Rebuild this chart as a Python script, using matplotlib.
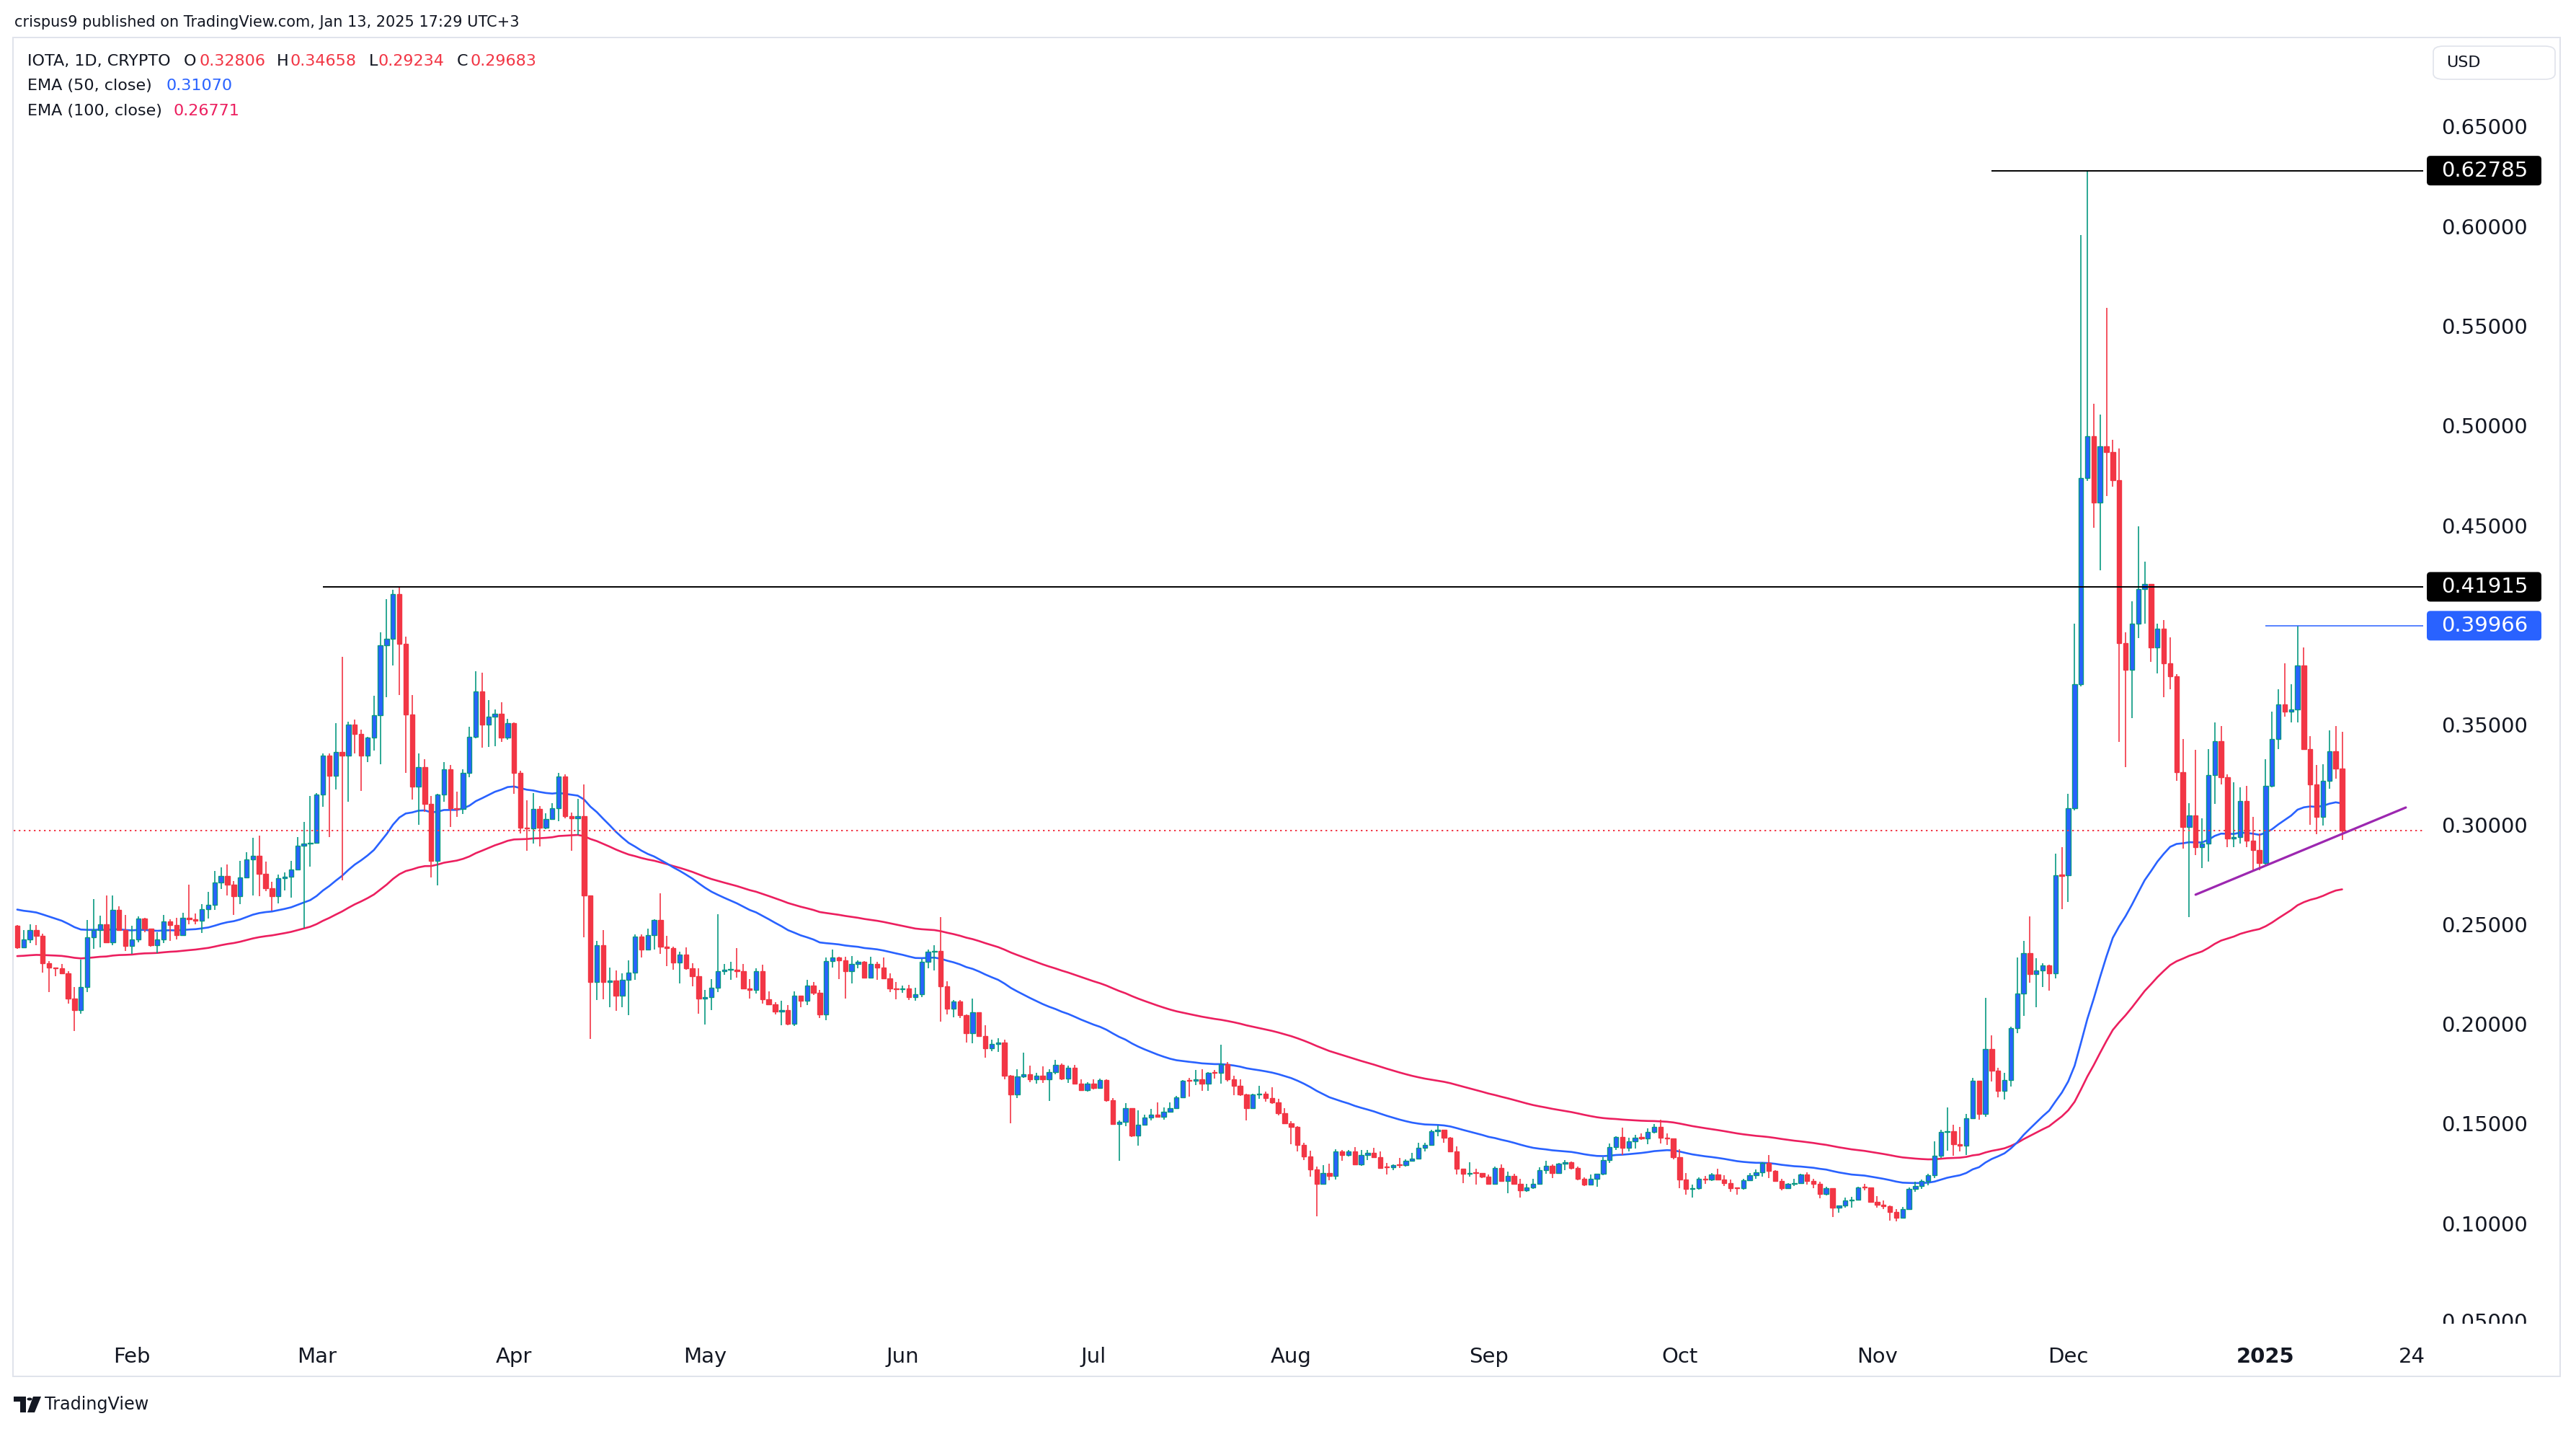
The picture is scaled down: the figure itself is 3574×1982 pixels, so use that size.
import numpy as np
import pandas as pd
import matplotlib
matplotlib.use("Agg")
import matplotlib.pyplot as plt
import matplotlib.dates as mdates
from matplotlib.patches import Rectangle, FancyBboxPatch, Circle, Polygon

plt.rcParams['font.family'] = ['DejaVu Sans']

# ---------------- data ----------------
start_date = '2024-01-14'

opens = [
    # Jan 14-31 2024
    .2491,.2382,.2422,.2470,.2440,.2305,.2281,.2279,.2253,.2127,.2070,.2183,.2434,.2470,.2498,.2410,.2573,.2470,
    # Feb
    .2392,.2422,.2528,.2476,.2396,.2422,.2515,.2497,.2444,.2531,.2525,.2516,.2576,.2598,.2709,.2742,.2699,.2641,.2736,.2826,.2842,.2754,.2681,.2639,.2729,.2739,.2774,.2895,.2904,
    # Mar
    .2907,.3149,.3347,.3245,.3364,.3344,.3501,.3455,.3344,.3435,.3547,.3897,.3930,.4154,.3907,.3550,.3189,.3288,.3104,.2819,.3149,.3276,.3082,.3078,.3260,.3438,.3667,.3499,.3542,.3554,.3435,
    # Apr
    .3507,.3260,.2984,.2980,.3078,.2982,.3028,.3082,.3242,.3040,.3032,.3040,.2644,.2211,.2396,.2211,.2216,.2142,.2220,.2256,.2437,.2374,.2446,.2522,.2388,.2380,.2308,.2347,.2280,.2238,
    # May
    .2127,.2133,.2181,.2263,.2270,.2273,.2263,.2179,.2169,.2263,.2124,.2099,.2063,.2070,.2000,.2142,.2115,.2191,.2155,.2046,.2314,.2332,.2317,.2263,.2299,.2311,.2233,.2302,.2284,.2227,.2179,
    # Jun
    .2175,.2178,.2133,.2147,.2311,.2362,.2367,.2187,.2075,.2111,.2043,.1952,.2057,.1940,.1876,.1898,.1908,.1741,.1645,.1735,.1747,.1723,.1741,.1723,.1759,.1793,.1727,.1780,.1699,.1669,
    # Jul
    .1699,.1679,.1717,.1617,.1498,.1510,.1579,.1440,.1494,.1530,.1546,.1533,.1561,.1579,.1633,.1717,.1714,.1721,.1699,.1756,.1753,.1798,.1723,.1691,.1645,.1579,.1645,.1651,.1627,.1605,.1552,
    # Aug
    .1503,.1485,.1392,.1334,.1271,.1199,.1253,.1239,.1359,.1344,.1362,.1295,.1344,.1353,.1332,.1283,.1280,.1295,.1292,.1313,.1326,.1377,.1394,.1460,.1468,.1428,.1359,.1274,.1247,.1255,.1251,
    # Sep
    .1235,.1199,.1277,.1213,.1239,.1199,.1166,.1178,.1199,.1265,.1289,.1253,.1299,.1305,.1277,.1223,.1195,.1223,.1247,.1316,.1383,.1434,.1380,.1412,.1431,.1424,.1458,.1485,.1430,.1425,
    # Oct
    .1332,.1221,.1171,.1177,.1223,.1219,.1244,.1219,.1203,.1179,.1176,.1217,.1241,.1256,.1301,.1263,.1211,.1175,.1199,.1203,.1243,.1211,.1199,.1147,.1175,.1078,.1088,.1115,.1119,.1182,.1179,
    # Nov
    .1106,.1094,.1085,.1058,.1027,.1072,.1171,.1187,.1211,.1241,.1340,.1458,.1462,.1398,.1391,.1528,.1714,.1548,.1874,.1765,.1663,.1720,.1979,.2151,.2353,.2251,.2268,.2292,.2253,.2747,
    # Dec
    .2744,.3082,.3704,.4738,.4947,.4613,.4897,.4867,.4725,.3908,.3776,.4008,.4182,.4205,.3888,.3983,.3809,.3742,.3261,.2987,.3044,.2887,.2905,.3248,.3418,.3236,.2930,.2937,.3116,.2917,.2870,
    # Jan 1-13 2025
    .2805,.3194,.3428,.3602,.3565,.3577,.3796,.3378,.3199,.3037,.3219,.3368,.32806,
]

highs = [
    .2494,.2470,.2498,.2494,.2452,.2316,.2283,.2302,.2265,.2183,.2322,.2521,.2627,.2543,.2644,.2644,.2588,.2545,
    .2492,.2540,.2533,.2476,.2461,.2545,.2525,.2533,.2557,.2697,.2552,.2600,.2663,.2766,.2786,.2798,.2717,.2817,.2860,.2934,.2943,.2814,.2711,.2748,.2760,.2817,.2937,.3013,.3143,
    .3158,.3355,.3355,.3507,.3839,.3516,.3527,.3474,.3438,.3645,.3965,.4128,.4176,.41915,.3942,.3648,.3356,.3326,.3143,.3154,.3311,.3298,.3165,.3276,.3489,.3770,.3760,.3623,.3575,.3613,.3530,
    .3512,.3268,.3120,.3157,.3093,.3055,.3108,.3260,.3250,.3058,.3128,.3200,.2644,.2416,.2469,.2281,.2269,.2253,.2320,.2449,.2449,.2476,.2525,.2654,.2440,.2386,.2362,.2384,.2304,.2278,
    .2169,.2223,.2549,.2302,.2311,.2380,.2302,.2223,.2280,.2296,.2163,.2109,.2115,.2094,.2163,.2142,.2220,.2211,.2169,.2332,.2371,.2338,.2338,.2341,.2320,.2316,.2335,.2311,.2332,.2253,.2209,
    .2191,.2196,.2181,.2326,.2372,.2396,.2534,.2214,.2119,.2121,.2049,.2127,.2057,.1992,.1922,.1928,.1920,.1745,.1771,.1856,.1789,.1753,.1786,.1771,.1820,.1801,.1789,.1795,.1721,.1709,
    .1723,.1726,.1721,.1627,.1515,.1603,.1579,.1567,.1545,.1573,.1605,.1581,.1605,.1639,.1717,.1729,.1769,.1771,.1759,.1769,.1896,.1808,.1741,.1721,.1651,.1649,.1689,.1661,.1681,.1623,.1576,
    .1512,.1488,.1404,.1364,.1283,.1292,.1298,.1370,.1368,.1368,.1383,.1368,.1368,.1377,.1359,.1301,.1295,.1328,.1320,.1353,.1404,.1404,.1470,.1491,.1468,.1434,.1386,.1274,.1305,.1275,.1253,
    .1244,.1283,.1295,.1259,.1247,.1223,.1199,.1223,.1280,.1314,.1295,.1303,.1317,.1311,.1283,.1231,.1244,.1247,.1332,.1400,.1436,.1480,.1428,.1444,.1452,.1476,.1497,.1518,.1452,.1425,
    .1371,.1251,.1195,.1231,.1239,.1251,.1274,.1241,.1219,.1181,.1223,.1251,.1271,.1308,.1344,.1265,.1223,.1203,.1223,.1247,.1256,.1223,.1207,.1183,.1177,.1090,.1130,.1133,.1183,.1199,.1180,
    .1135,.1115,.1090,.1070,.1082,.1181,.1207,.1219,.1247,.1410,.1468,.1581,.1494,.1482,.1548,.1729,.1714,.2130,.1943,.1781,.1753,.1985,.2332,.2416,.2540,.2328,.2304,.2296,.2854,.2886,
    .3154,.4008,.5955,.62785,.5109,.5054,.5589,.4929,.4885,.3963,.4120,.4494,.4319,.4207,.4008,.4025,.3938,.3752,.3428,.3107,.3373,.3032,.3378,.3510,.3492,.3253,.3211,.3186,.3194,.3037,.2955,
    .3328,.3565,.3677,.3809,.3702,.39966,.3889,.3443,.3298,.3303,.3473,.3492,.34658,
]

lows = [
    .2375,.2380,.2404,.2396,.2256,.2159,.2238,.2250,.2103,.1964,.2051,.2159,.2376,.2382,.2409,.2394,.2465,.2364,
    .2350,.2408,.2458,.2388,.2356,.2404,.2416,.2425,.2440,.2500,.2500,.2455,.2528,.2573,.2675,.2645,.2545,.2600,.2733,.2645,.2641,.2666,.2567,.2603,.2669,.2633,.2774,.2482,.2790,
    .2906,.3090,.2936,.3177,.2720,.3113,.3356,.3169,.3314,.3372,.3303,.3638,.3796,.3648,.3260,.3124,.2997,.3063,.2736,.2693,.3113,.2987,.3037,.3052,.3235,.3431,.3385,.3390,.3394,.3413,.3425,
    .3154,.2956,.2869,.2903,.2891,.2976,.3025,.3017,.3032,.2869,.2949,.2434,.1925,.2119,.2124,.2085,.2067,.2085,.2043,.2221,.2332,.2368,.2374,.2352,.2290,.2272,.2203,.2272,.2187,.2051,
    .1998,.2070,.2159,.2247,.2221,.2233,.2179,.2127,.2151,.2103,.2099,.2049,.1994,.1994,.1988,.2082,.2094,.2145,.2030,.2018,.2284,.2223,.2127,.2202,.2280,.2227,.2229,.2221,.2223,.2159,.2123,
    .2155,.2121,.2115,.2133,.2278,.2269,.2010,.2049,.2034,.2031,.1908,.1902,.1934,.1829,.1862,.1858,.1721,.1500,.1627,.1729,.1709,.1702,.1705,.1612,.1747,.1717,.1703,.1699,.1667,.1659,
    .1673,.1675,.1611,.1494,.1314,.1486,.1434,.1388,.1491,.1515,.1533,.1521,.1557,.1579,.1633,.1636,.1693,.1663,.1665,.1726,.1699,.1711,.1642,.1639,.1516,.1572,.1624,.1611,.1600,.1542,.1503,
    .1398,.1362,.1316,.1235,.1036,.1199,.1215,.1219,.1313,.1334,.1295,.1287,.1316,.1328,.1275,.1245,.1268,.1277,.1283,.1310,.1322,.1359,.1392,.1438,.1404,.1359,.1244,.1203,.1233,.1193,.1227,
    .1193,.1195,.1213,.1151,.1193,.1130,.1159,.1171,.1199,.1247,.1227,.1251,.1268,.1271,.1217,.1187,.1191,.1183,.1241,.1301,.1368,.1344,.1359,.1376,.1420,.1395,.1452,.1401,.1392,.1320,
    .1175,.1145,.1130,.1169,.1199,.1211,.1219,.1187,.1159,.1145,.1169,.1215,.1223,.1235,.1227,.1207,.1166,.1171,.1187,.1199,.1195,.1175,.1127,.1139,.1030,.1054,.1078,.1078,.1118,.1166,.1106,
    .1078,.1070,.1015,.1010,.1027,.1072,.1159,.1171,.1191,.1227,.1328,.1364,.1337,.1362,.1344,.1524,.1518,.1533,.1711,.1633,.1621,.1687,.1955,.2039,.2208,.2082,.2185,.2167,.2229,.2576,
    .2613,.3070,.3692,.4723,.4486,.4274,.4648,.4693,.3415,.3286,.3535,.3933,.4008,.3814,.3759,.3639,.3677,.3219,.2880,.2534,.2845,.2783,.2813,.3104,.3199,.2887,.2887,.2905,.2887,.2770,.2770,
    .2800,.3186,.3378,.3542,.3510,.3510,.3378,.3000,.2950,.2995,.3179,.3229,.29234,
]

closes = [
    .2382,.2422,.2470,.2440,.2305,.2281,.2279,.2253,.2127,.2070,.2183,.2434,.2470,.2498,.2410,.2573,.2470,.2392,
    .2422,.2528,.2476,.2396,.2422,.2515,.2497,.2444,.2531,.2525,.2516,.2576,.2598,.2709,.2742,.2699,.2641,.2736,.2826,.2842,.2754,.2681,.2639,.2729,.2739,.2774,.2895,.2904,.2907,
    .3149,.3347,.3245,.3364,.3344,.3501,.3455,.3344,.3435,.3547,.3897,.3930,.4154,.3907,.3550,.3189,.3288,.3104,.2819,.3149,.3276,.3082,.3078,.3260,.3438,.3667,.3499,.3542,.3554,.3435,.3507,
    .3260,.2982,.2980,.3078,.2982,.3028,.3082,.3242,.3040,.3032,.3040,.2644,.2211,.2396,.2211,.2216,.2142,.2220,.2256,.2437,.2374,.2446,.2522,.2388,.2380,.2308,.2347,.2280,.2238,.2127,
    .2133,.2181,.2263,.2270,.2273,.2263,.2179,.2169,.2263,.2124,.2099,.2063,.2070,.2000,.2142,.2115,.2191,.2155,.2046,.2314,.2332,.2317,.2263,.2299,.2311,.2233,.2302,.2284,.2227,.2179,.2175,
    .2178,.2133,.2147,.2311,.2362,.2367,.2187,.2075,.2111,.2043,.1952,.2057,.1940,.1876,.1898,.1908,.1741,.1645,.1735,.1747,.1723,.1741,.1723,.1759,.1793,.1727,.1780,.1699,.1669,.1699,
    .1679,.1717,.1617,.1498,.1510,.1579,.1440,.1494,.1530,.1546,.1533,.1561,.1579,.1633,.1714,.1714,.1721,.1699,.1753,.1753,.1798,.1723,.1691,.1645,.1579,.1645,.1651,.1627,.1605,.1552,.1503,
    .1485,.1392,.1334,.1271,.1199,.1253,.1239,.1359,.1344,.1362,.1295,.1344,.1353,.1332,.1277,.1280,.1293,.1292,.1313,.1326,.1377,.1394,.1460,.1468,.1428,.1359,.1274,.1247,.1253,.1251,.1235,
    .1199,.1277,.1213,.1239,.1199,.1166,.1178,.1199,.1265,.1289,.1253,.1299,.1305,.1277,.1223,.1195,.1223,.1247,.1316,.1383,.1434,.1380,.1412,.1428,.1424,.1458,.1485,.1428,.1425,.1332,
    .1221,.1171,.1177,.1223,.1219,.1244,.1219,.1203,.1175,.1176,.1217,.1241,.1256,.1301,.1263,.1211,.1175,.1199,.1203,.1243,.1211,.1199,.1147,.1175,.1078,.1088,.1115,.1119,.1178,.1179,.1106,
    .1094,.1085,.1058,.1027,.1072,.1171,.1187,.1211,.1241,.1340,.1458,.1462,.1398,.1391,.1528,.1714,.1548,.1874,.1765,.1663,.1720,.1979,.2151,.2353,.2251,.2268,.2292,.2253,.2744,.2741,
    .3082,.3704,.4738,.4947,.4613,.4897,.4867,.4725,.3908,.3776,.4008,.4182,.4205,.3888,.3983,.3809,.3742,.3261,.2987,.3044,.2887,.2905,.3248,.3418,.3236,.2930,.2937,.3116,.2917,.2870,.2805,
    .3194,.3428,.3602,.3565,.3577,.3796,.3378,.3199,.3037,.3219,.3368,.3281,.29683,
]

# EMA values on the day before the first visible candle
ema50_seed = 0.2581
ema100_seed = 0.2339

level_prices = [0.62785, 0.41915, 0.39966]
level_labels = ['0.62785', '0.41915', '0.39966']
level_starts = ['2024-11-19', '2024-03-02', '2025-01-01']
level_colors = ['#000000', '#000000', '#2962ff']

trend_dates = ['2024-12-21', '2025-01-23']
trend_prices = [0.2648, 0.3085]

last_price = 0.29683

price_ticks = [0.10, 0.15, 0.20, 0.25, 0.30, 0.35, 0.45, 0.50, 0.55, 0.60, 0.65]
bottom_tick = 0.05
time_ticks = ['2024-02-01', '2024-03-01', '2024-04-01', '2024-05-01', '2024-06-01', '2024-07-01',
              '2024-08-01', '2024-09-01', '2024-10-01', '2024-11-01', '2024-12-01', '2025-01-01', '2025-01-24']
time_labels = ['Feb', 'Mar', 'Apr', 'May', 'Jun', 'Jul', 'Aug', 'Sep', 'Oct', 'Nov', 'Dec', '2025', '24']

legend_symbol = 'IOTA, 1D, CRYPTO'
ema_names = ['EMA (50, close)', 'EMA (100, close)']
ema_values = ['0.31070', '0.26771']
header = 'crispus9 published on TradingView.com, Jan 13, 2025 17:29 UTC+3'

assert len(opens) == len(highs) == len(lows) == len(closes) == 366

# ---------------- styling ----------------
W, H, DPI = 3574, 1982, 200
UP_FILL, UP_EDGE, DOWN = '#2962ff', '#089981', '#f23645'
EMA50_C, EMA100_C = '#2962ff', '#ec1f5f'
TXT = '#131722'

def fx(px):
    return px / W

def fy(py):
    return 1 - py / H

fig = plt.figure(figsize=(W / DPI, H / DPI), dpi=DPI)
fig.patch.set_facecolor('white')

PL, PR, PT, PB = 19, 3362, 55, 1836
ax = fig.add_axes([fx(PL), fy(PB), fx(PR) - fx(PL), fy(PT) - fy(PB)])

dates = pd.date_range(start_date, periods=len(closes), freq='D')
x = mdates.date2num(dates.to_pydatetime())
o = np.array(opens); h = np.array(highs); l = np.array(lows); c = np.array(closes)

# EMAs computed from closes
ema50 = pd.Series(np.r_[ema50_seed, c]).ewm(span=50, adjust=False).mean().to_numpy()[1:]
ema100 = pd.Series(np.r_[ema100_seed, c]).ewm(span=100, adjust=False).mean().to_numpy()[1:]
ax.plot(x, ema100, color=EMA100_C, lw=0.95, zorder=2, solid_capstyle='round')
ax.plot(x, ema50, color=EMA50_C, lw=0.95, zorder=2, solid_capstyle='round')

up = c >= o
edge = np.where(up, UP_EDGE, DOWN)
fill = np.where(up, UP_FILL, DOWN)
ax.vlines(x, l, h, colors=edge, lw=0.6, zorder=3)
body_bottom = np.minimum(o, c)
body_h = np.maximum(np.abs(c - o), 0.0004)
ax.bar(x, body_h, bottom=body_bottom, width=0.72, color=fill, edgecolor=edge,
       linewidth=0.5, zorder=4, align='center')

x_right = x[-1] + 12.73
ax.set_xlim(x[0] - 0.55, x_right)
ylo = 0.65 - (PB - 175.4) / 2766.0
yhi = 0.65 + (175.4 - PT) / 2766.0
ax.set_ylim(ylo, yhi)

# last price dotted line
ax.axhline(last_price, color=DOWN, lw=0.7, ls=(0, (1.2, 2.4)), zorder=5)

# horizontal level lines
for p, s, col in zip(level_prices, level_starts, level_colors):
    xs = mdates.date2num(pd.Timestamp(s).to_pydatetime())
    ax.hlines(p, xs, x_right, colors=col, lw=0.7 if col == '#000000' else 0.55, zorder=6)

# trend line
td = mdates.date2num(pd.to_datetime(trend_dates).to_pydatetime())
ax.plot(td, trend_prices, color='#9c27b0', lw=1.15, zorder=7, solid_capstyle='round')

for sp in ax.spines.values():
    sp.set_visible(False)

ax.yaxis.tick_right()
ax.set_yticks(price_ticks)
ax.set_yticklabels([f'{v:.5f}' for v in price_ticks])
ax.tick_params(axis='y', length=0, pad=9, labelsize=10.5, labelcolor=TXT)

tt = mdates.date2num(pd.to_datetime(time_ticks).to_pydatetime())
ax.set_xticks(tt)
ax.set_xticklabels(time_labels)
ax.tick_params(axis='x', length=0, pad=11.5, labelsize=10.5, labelcolor=TXT)
for lab in ax.get_xticklabels():
    if lab.get_text() == '2025':
        lab.set_fontweight('bold')

# price-scale overlay for badges and the clipped bottom label
sx = fig.add_axes([fx(PR), fy(PB), fx(3552) - fx(PR), fy(PT) - fy(PB)])
sx.set_xlim(0, 3552 - PR)
sx.set_ylim(ylo, yhi)
sx.axis('off')
sx.patch.set_visible(False)
bh = 41 / 2766.0
for p, lab, col in zip(level_prices, level_labels, level_colors):
    bx = FancyBboxPatch((5, p - bh / 2), 159, bh, boxstyle='round,pad=0,rounding_size=5',
                        mutation_aspect=1 / 2766.0, fc=col, ec='none', zorder=5)
    sx.add_patch(bx)
    sx.text(25, p, lab, color='white', fontsize=10.5, va='center', ha='left', zorder=6)
sx.text(25, bottom_tick, f'{bottom_tick:.5f}', color=TXT, fontsize=10.5, va='center', ha='left',
        clip_on=True)

# USD box
usd = FancyBboxPatch((fx(3376), fy(110)), fx(3545) - fx(3376), fy(64) - fy(110),
                     boxstyle='round,pad=0,rounding_size=0.004', transform=fig.transFigure,
                     fc='white', ec='#e0e3eb', lw=0.6)
fig.patches.append(usd)
fig.text(fx(3394), fy(87), 'USD', fontsize=8, color=TXT, va='center', ha='left')

# frame
fig.patches.append(Rectangle((fx(18), fy(1909)), fx(3552) - fx(18), fy(52) - fy(1909),
                             transform=fig.transFigure, fill=False, ec='#e0e3eb', lw=0.7))

# header and legend
fig.text(fx(20), fy(31), header, fontsize=7.5, color=TXT, va='center', ha='left')
fig.text(fx(38), fy(85), legend_symbol, fontsize=8, color=TXT, va='center', ha='left')
ohlc_letters = ['O', 'H', 'L', 'C']
ohlc_vals = [opens[-1], highs[-1], lows[-1], closes[-1]]
letter_x = [255, 384, 512, 634]
value_x = [276, 402, 525, 652]
for let, v, lx, vx in zip(ohlc_letters, ohlc_vals, letter_x, value_x):
    fig.text(fx(lx), fy(85), let, fontsize=8, color=TXT, va='center', ha='left')
    fig.text(fx(vx), fy(85), f'{v:.5f}', fontsize=8, color=DOWN, va='center', ha='left')
fig.text(fx(38), fy(119), ema_names[0], fontsize=8, color=TXT, va='center', ha='left')
fig.text(fx(230), fy(119), ema_values[0], fontsize=8, color=EMA50_C, va='center', ha='left')
fig.text(fx(38), fy(154), ema_names[1], fontsize=8, color=TXT, va='center', ha='left')
fig.text(fx(241), fy(154), ema_values[1], fontsize=8, color=EMA100_C, va='center', ha='left')

# TradingView logo + wordmark
def P(px, py):
    return (fx(px), fy(py))
fig.patches.append(Polygon([P(19, 1937), P(36, 1937), P(36, 1959), P(28, 1959), P(28, 1944), P(19, 1944)],
                           closed=True, transform=fig.transFigure, fc='#131722', ec='none'))
fig.patches.append(Polygon([P(46, 1937), P(57, 1937), P(48, 1959), P(38, 1959)],
                           closed=True, transform=fig.transFigure, fc='#131722', ec='none'))
fig.patches.append(Circle(P(41, 1940.5), 3.6 / W, transform=fig.transFigure,
                          fc='#131722', ec='none'))
fig.text(fx(62), fy(1948), 'TradingView', fontsize=8.6, color=TXT, va='center', ha='left')

fig.savefig('out.png', dpi=DPI, facecolor='white')
